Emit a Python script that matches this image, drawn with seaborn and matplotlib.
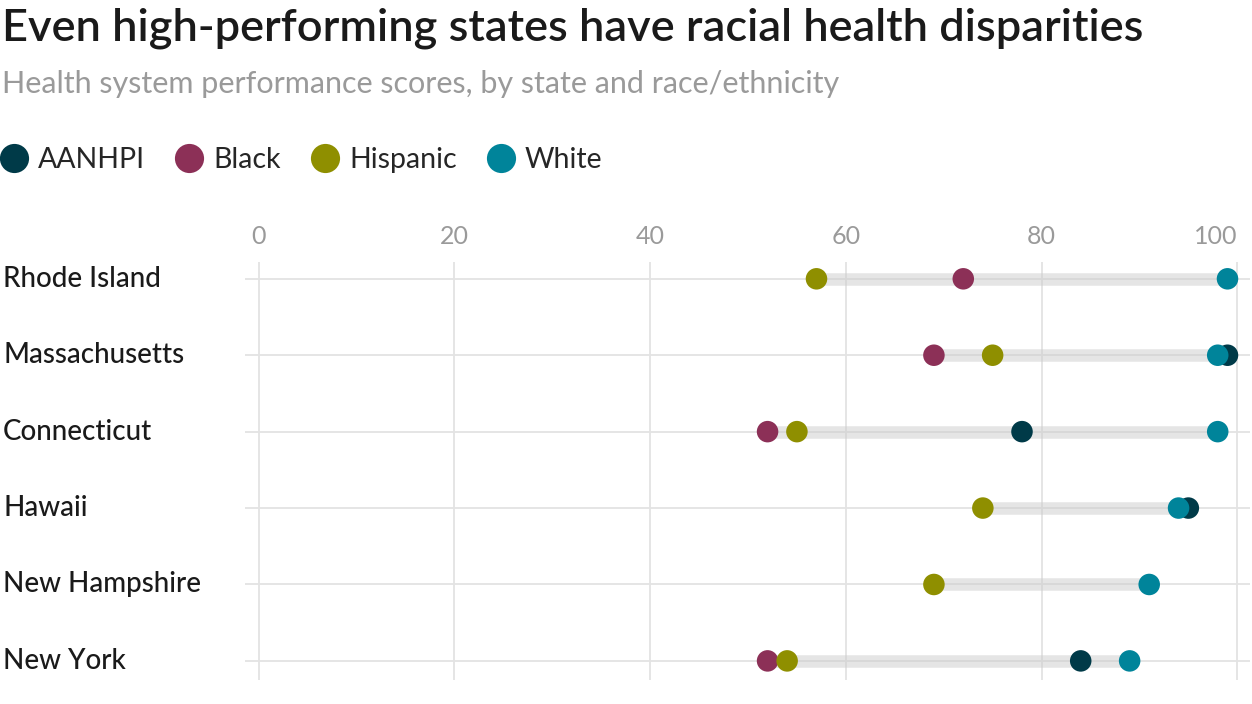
import matplotlib
matplotlib.use("Agg")
import matplotlib.pyplot as plt
import matplotlib.transforms as mtransforms
import seaborn as sns
import pandas as pd

# values
states = ["Rhode Island", "Massachusetts", "Connecticut", "Hawaii", "New Hampshire", "New York"]
aanhpi = [None, 99, 78, 95, None, 84]
black = [72, 69, 52, None, None, 52]
hispanic = [57, 75, 55, 74, 69, 54]
white = [99, 98, 98, 94, 91, 89]

races = ["AANHPI", "Black", "Hispanic", "White"]
colors = ["#003a48", "#8c3057", "#8f8f00", "#00849a"]
ticks = [0, 20, 40, 60, 80, 100]

rows = []
for race, vals in zip(races, [aanhpi, black, hispanic, white]):
    for st, v in zip(states, vals):
        if v is not None:
            rows.append({"state": st, "race": race, "score": v, "pos": states.index(st)})
df = pd.DataFrame(rows)

sns.set_theme(style="white")
plt.rcParams["font.family"] = ["Lato", "DejaVu Sans"]

fig = plt.figure(figsize=(12.52, 7.04), dpi=100)
ax = fig.add_axes([245 / 1252, 1 - 680 / 704, 1005 / 1252, 418 / 704])

# grid
for t in ticks:
    ax.axvline(t, color="#e3e3e3", lw=1.3, zorder=0)
for i in range(len(states)):
    ax.axhline(i, color="#e3e3e3", lw=1.3, zorder=0)

# range bars
rng = df.groupby("pos")["score"].agg(["min", "max"])
ax.hlines(rng.index, rng["min"], rng["max"], color="#cccccc", alpha=0.5, lw=9, zorder=1)

sns.scatterplot(data=df, x="score", y="pos", hue="race", hue_order=races,
                palette=colors, s=240, linewidth=0, ax=ax, zorder=3, legend=True)

ax.set_xlim(-1.4, 101.3)
ax.set_ylim(5.25, -0.22)
ax.set_xticks(ticks)
ax.xaxis.tick_top()
ax.tick_params(axis="x", length=0, pad=10, labelsize=18, labelcolor="#9a9a9a")
ax.get_xticklabels()[-1].set_ha("right")
ax.set_yticks([])
ax.set_xlabel("")
ax.set_ylabel("")
for s in ax.spines.values():
    s.set_visible(False)

trans = mtransforms.blended_transform_factory(fig.transFigure, ax.transData)
for i, st in enumerate(states):
    ax.text(3 / 1252, i, st, transform=trans, ha="left", va="center",
            fontsize=20, color="#1a1a1a", fontweight="medium")

handles, labels = ax.get_legend_handles_labels()
ax.get_legend().remove()
for h in handles:
    h.set_markersize(21)
fig.legend(handles, labels, loc="center left", bbox_to_anchor=(-0.021, 1 - 160 / 704),
           ncol=4, frameon=False, fontsize=20.5, handlelength=1.0, handletextpad=0.35,
           columnspacing=1.05, markerscale=1)

fig.text(2 / 1252, 1 - 28 / 704, "Even high-performing states have racial health disparities",
         fontsize=32.5, fontweight="semibold", color="#1a1a1a", va="center", ha="left")
fig.text(2 / 1252, 1 - 84 / 704, "Health system performance scores, by state and race/ethnicity",
         fontsize=22, color="#9a9a9a", va="center", ha="left")

fig.savefig("out.png", dpi=100)
